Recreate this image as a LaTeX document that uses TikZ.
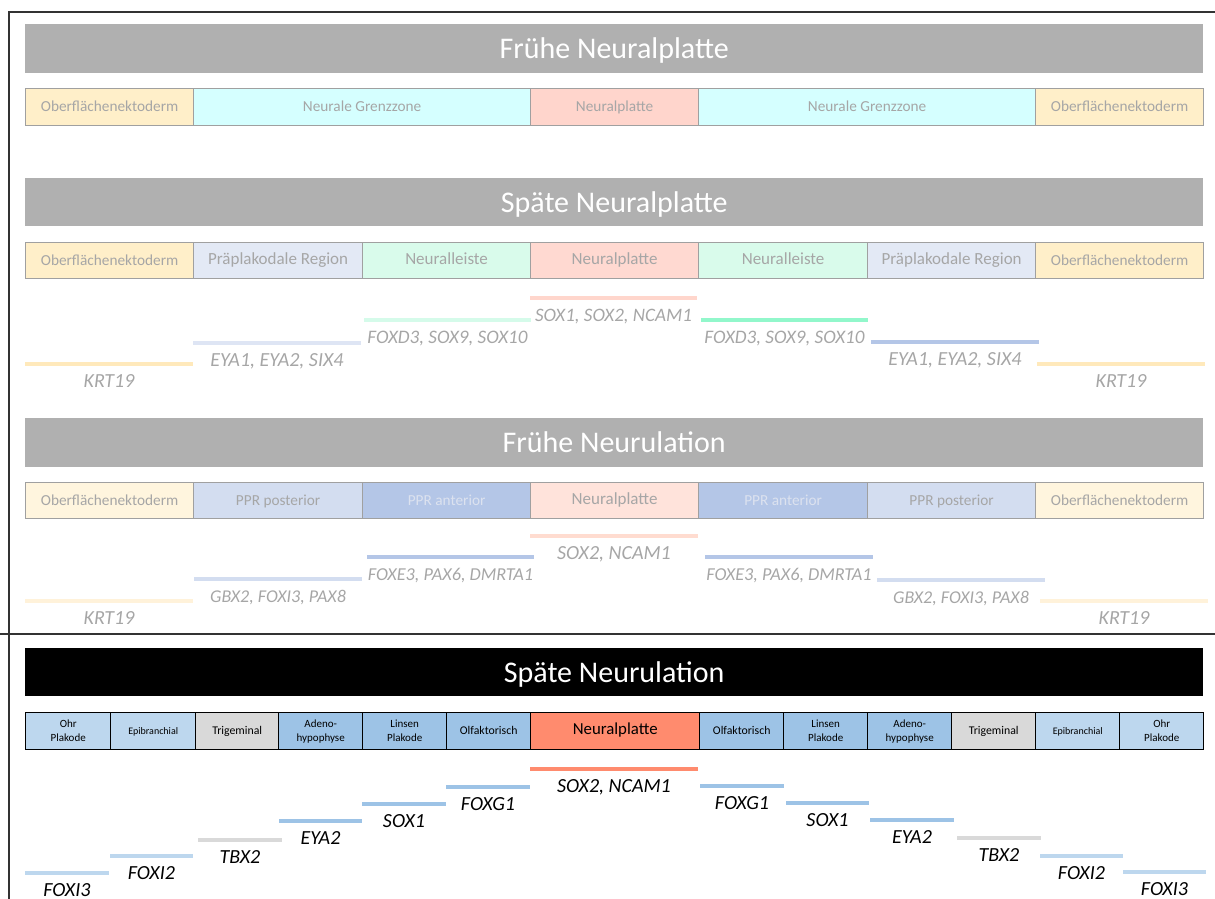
\documentclass[tikz,border=0pt]{standalone}
\usepackage{fontspec}
\setmainfont{Carlito}
\definecolor{barg}{HTML}{B0B0B0}
\definecolor{txtg}{HTML}{A6A6A6}
\definecolor{cellb}{HTML}{A0A0A0}
\definecolor{oA}{HTML}{FFEFC9}
\definecolor{grz}{HTML}{D5FFFF}
\definecolor{npA}{HTML}{FFD5CC}
\definecolor{ppr}{HTML}{E3E9F5}
\definecolor{nl}{HTML}{D9FBEB}
\definecolor{npB}{HTML}{FFD9D1}
\definecolor{oC}{HTML}{FFF5DE}
\definecolor{pprp}{HTML}{D3DDF0}
\definecolor{ppra}{HTML}{B4C6E7}
\definecolor{pprt}{HTML}{DCE2EF}
\definecolor{npC}{HTML}{FFE3DB}
\definecolor{lb}{HTML}{BDD7EE}
\definecolor{gy}{HTML}{D9D9D9}
\definecolor{mb}{HTML}{9DC3E6}
\definecolor{sal}{HTML}{FF8B6E}
\definecolor{krtA}{HTML}{FFE9BB}
\definecolor{eyaL}{HTML}{DEE5F4}
\definecolor{foxdL}{HTML}{D5FBEA}
\definecolor{foxdR}{HTML}{92F7CB}
\definecolor{soxA}{HTML}{FFD6CC}
\definecolor{krtC}{HTML}{FFF2DA}
\definecolor{soxC}{HTML}{FFDCD0}
\newcommand\bx[7]{\node[#6, minimum width={#3pt-#2pt}, minimum height={#5pt-#4pt}] (#1) at (#2,#4) {#7};}
\newcommand\gn[7]{\coordinate (#1a) at (#2,#4); \coordinate (#1b) at (#3,#4);
  \draw[gline, draw=#5] (#1a) -- (#1b);
  \node[#6] (#1) at ({(#2+#3)/2},{#4+23}) {#7};}
\begin{document}
\begin{tikzpicture}[x=1pt,y=-1pt,
  bar/.style={fill=barg, draw=none, anchor=north west, inner sep=0pt, text=white,
    font=\fontsize{30}{36}\selectfont, text height=20.5pt, text depth=0pt},
  cellA/.style={draw=cellb, line width=1.2pt, anchor=north west, inner sep=0pt, text=txtg,
    text height=0.9em, text depth=0pt, font=\fontsize{15.3}{18}\selectfont},
  cellA2/.style={cellA, font=\fontsize{17}{20}\selectfont, text height=0.85em},
  cellB/.style={draw=black, line width=1.4pt, anchor=north west, inner sep=0pt, text=black,
    align=center, font=\fontsize{11}{14}\selectfont},
  cellB1/.style={cellB, text height=0.72em, text depth=0pt, font=\fontsize{11.8}{14}\selectfont},
  frame/.style={draw=black!80, line width=1.3pt},
  gline/.style={line width=4pt},
  fs/.style={font=\fontsize{#1}{#1}\selectfont\itshape},
  glA/.style={anchor=base, text=txtg, fs=20, inner sep=0pt},
  glB/.style={glA, text=black}]
\useasboundingbox (0,0) rectangle (1215,899);
% frame
\coordinate (f1) at (9,899); \coordinate (f2) at (9,12); \coordinate (f3) at (1215,12);
\coordinate (f4) at (0,634); \coordinate (f5) at (1215,634);
\draw[frame] (f1) -- (f2) -- (f3);
\draw[frame] (f4) -- (f5);
% title bars
\bx{t1}{25}{1203}{24}{73}{bar}{Frühe Neuralplatte}
\bx{t2}{25}{1203}{178}{226}{bar}{Späte Neuralplatte}
\bx{t3}{25}{1203}{418}{467}{bar}{Frühe Neurulation}
\bx{t4}{25}{1203}{648}{696}{bar, fill=black}{Späte Neurulation}
% row 1
\bx{a1}{25}{193}{88}{125}{cellA, fill=oA}{Oberflächenektoderm}
\bx{a2}{193}{530}{88}{125}{cellA, fill=grz}{Neurale Grenzzone}
\bx{a3}{530}{698}{88}{125}{cellA, fill=npA}{Neuralplatte}
\bx{a4}{698}{1035}{88}{125}{cellA, fill=grz}{Neurale Grenzzone}
\bx{a5}{1035}{1203}{88}{125}{cellA, fill=oA}{Oberflächenektoderm}
% row 2
\bx{b1}{25}{193}{242}{278}{cellA, fill=oA}{Oberflächenektoderm}
\bx{b2}{193}{362}{242}{278}{cellA2, fill=ppr}{Präplakodale Region}
\bx{b3}{362}{530}{242}{278}{cellA2, fill=nl}{Neuralleiste}
\bx{b4}{530}{698}{242}{278}{cellA2, fill=npB}{Neuralplatte}
\bx{b5}{698}{867}{242}{278}{cellA2, fill=nl}{Neuralleiste}
\bx{b6}{867}{1035}{242}{278}{cellA2, fill=ppr}{Präplakodale Region}
\bx{b7}{1035}{1203}{242}{278}{cellA, fill=oA}{Oberflächenektoderm}
% row 2 genes
\gn{gb1}{25}{193}{364}{krtA}{glA}{KRT19}
\gn{gb2}{193}{361}{343}{eyaL}{glA}{EYA1, EYA2, SIX4}
\gn{gb3}{364}{531}{320}{foxdL}{glA, fs=19.1}{FOXD3, SOX9, SOX10}
\gn{gb4}{530}{697}{298}{soxA}{glA, fs=19}{SOX1, SOX2, NCAM1}
\gn{gb5}{701}{868}{320}{foxdR}{glA, fs=19.1}{FOXD3, SOX9, SOX10}
\gn{gb6}{871}{1039}{342}{ppra}{glA}{EYA1, EYA2, SIX4}
\gn{gb7}{1037}{1205}{364}{krtA}{glA}{KRT19}
% row 3
\bx{c1}{25}{193}{482}{518}{cellA, fill=oC}{Oberflächenektoderm}
\bx{c2}{193}{362}{482}{518}{cellA, fill=pprp}{PPR posterior}
\bx{c3}{362}{530}{482}{518}{cellA, fill=ppra, text=pprt}{PPR anterior}
\bx{c4}{530}{698}{482}{518}{cellA2, fill=npC}{Neuralplatte}
\bx{c5}{698}{867}{482}{518}{cellA, fill=ppra, text=pprt}{PPR anterior}
\bx{c6}{867}{1035}{482}{518}{cellA, fill=pprp}{PPR posterior}
\bx{c7}{1035}{1203}{482}{518}{cellA, fill=oC}{Oberflächenektoderm}
% row 3 genes
\gn{gc1}{25}{193}{601}{krtC}{glA}{KRT19}
\gn{gc2}{194}{362}{579}{pprp}{glA, fs=18}{GBX2, FOXI3, PAX8}
\gn{gc3}{367}{534}{557}{ppra}{glA, fs=18.2}{FOXE3, PAX6, DMRTA1}
\gn{gc4}{530}{698}{536}{soxC}{glA}{SOX2, NCAM1}
\gn{gc5}{705}{873}{557}{ppra}{glA, fs=18.2}{FOXE3, PAX6, DMRTA1}
\gn{gc6}{877}{1045}{580}{pprp}{glA, fs=18}{GBX2, FOXI3, PAX8}
\gn{gc7}{1040}{1208}{601}{krtC}{glA}{KRT19}
% row 4
\bx{d1}{25}{110}{712}{749}{cellB, fill=lb}{Ohr\\Plakode}
\bx{d2}{110}{195}{712}{749}{cellB1, fill=lb, font=\fontsize{10}{12}\selectfont}{Epibranchial}
\bx{d3}{195}{278}{712}{749}{cellB1, fill=gy}{Trigeminal}
\bx{d4}{278}{362}{712}{749}{cellB, fill=mb}{Adeno-\\hypophyse}
\bx{d5}{362}{446}{712}{749}{cellB, fill=mb}{Linsen\\Plakode}
\bx{d6}{446}{530}{712}{749}{cellB1, fill=mb}{Olfaktorisch}
\bx{d7}{530}{699}{712}{749}{cellB1, fill=sal, font=\fontsize{16.8}{20}\selectfont}{Neuralplatte}
\bx{d8}{699}{783}{712}{749}{cellB1, fill=mb}{Olfaktorisch}
\bx{d9}{783}{867}{712}{749}{cellB, fill=mb}{Linsen\\Plakode}
\bx{d10}{867}{951}{712}{749}{cellB, fill=mb}{Adeno-\\hypophyse}
\bx{d11}{951}{1035}{712}{749}{cellB1, fill=gy}{Trigeminal}
\bx{d12}{1035}{1119}{712}{749}{cellB1, fill=lb, font=\fontsize{10}{12}\selectfont}{Epibranchial}
\bx{d13}{1119}{1203}{712}{749}{cellB, fill=lb}{Ohr\\Plakode}
% row 4 genes
\gn{gd1}{25}{109}{873}{lb}{glB}{FOXI3}
\gn{gd2}{110}{193}{856}{lb}{glB}{FOXI2}
\gn{gd3}{198}{282}{840}{gy}{glB}{TBX2}
\gn{gd4}{279}{362}{821}{mb}{glB}{EYA2}
\gn{gd5}{362}{446}{804}{mb}{glB}{SOX1}
\gn{gd6}{446}{530}{787}{mb}{glB}{FOXG1}
\gn{gd7}{530}{698}{769}{sal}{glB}{SOX2, NCAM1}
\gn{gd8}{700}{784}{786}{mb}{glB}{FOXG1}
\gn{gd9}{786}{869}{803}{mb}{glB}{SOX1}
\gn{gd10}{870}{954}{820}{mb}{glB}{EYA2}
\gn{gd11}{957}{1041}{838}{gy}{glB}{TBX2}
\gn{gd12}{1040}{1123}{856}{lb}{glB}{FOXI2}
\gn{gd13}{1123}{1206}{872}{lb}{glB}{FOXI3}
\end{tikzpicture}
\end{document}
